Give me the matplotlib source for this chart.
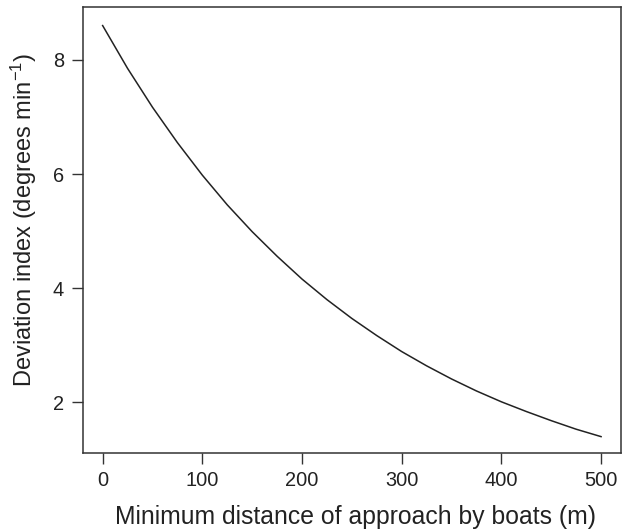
import matplotlib
matplotlib.use("Agg")
import matplotlib.pyplot as plt

plt.rcParams['font.family'] = ['Liberation Sans', 'DejaVu Sans']
plt.rcParams['mathtext.fontset'] = 'custom'
plt.rcParams['mathtext.rm'] = 'Liberation Sans'
plt.rcParams['mathtext.it'] = 'Liberation Sans'

# values
distance = [0, 25, 50, 75, 100, 125, 150, 175, 200, 225, 250,
            275, 300, 325, 350, 375, 400, 425, 450, 475, 500]
deviation = [8.60, 7.85, 7.17, 6.55, 5.98, 5.46, 4.99, 4.56, 4.16, 3.80, 3.47,
             3.17, 2.89, 2.64, 2.41, 2.20, 2.01, 1.84, 1.68, 1.53, 1.40]

xticks = [0, 100, 200, 300, 400, 500]
yticks = [2, 4, 6, 8]

W, H = 622, 531
fig = plt.figure(figsize=(W / 100, H / 100), dpi=100)
# box placed by pixel position in the original
ax = fig.add_axes([82.7 / W, (H - 453.3) / H,
                   (621 - 82.7) / W, (453.3 - 7.3) / H])

ax.plot(distance, deviation, color='#222222', lw=1.1)

ax.set_xlim(-20, 520)
ax.set_ylim(1.108, 8.92)
ax.set_xticks(xticks)
ax.set_yticks(yticks)

for s in ax.spines.values():
    s.set_linewidth(1.1)
    s.set_color('#333333')
ax.tick_params(direction='out', length=7.6, width=1.0, color='#333333',
               labelsize=14.4, labelcolor='#222222')
ax.tick_params(axis='x', pad=5)
ax.tick_params(axis='y', pad=5.8)

# axis titles put where they sit in the reference
fig.text(355.5 / W, (H - 524.3) / H, 'Minimum distance of approach by boats (m)',
         fontsize=17.8, color='#222222', ha='center', va='baseline')
fig.text(23.5 / W, (H - 220) / H, r'Deviation index (degrees min$^{-1}$)',
         fontsize=17.0, color='#222222', ha='center', va='center', rotation=90)

fig.savefig('out.png', dpi=100)
